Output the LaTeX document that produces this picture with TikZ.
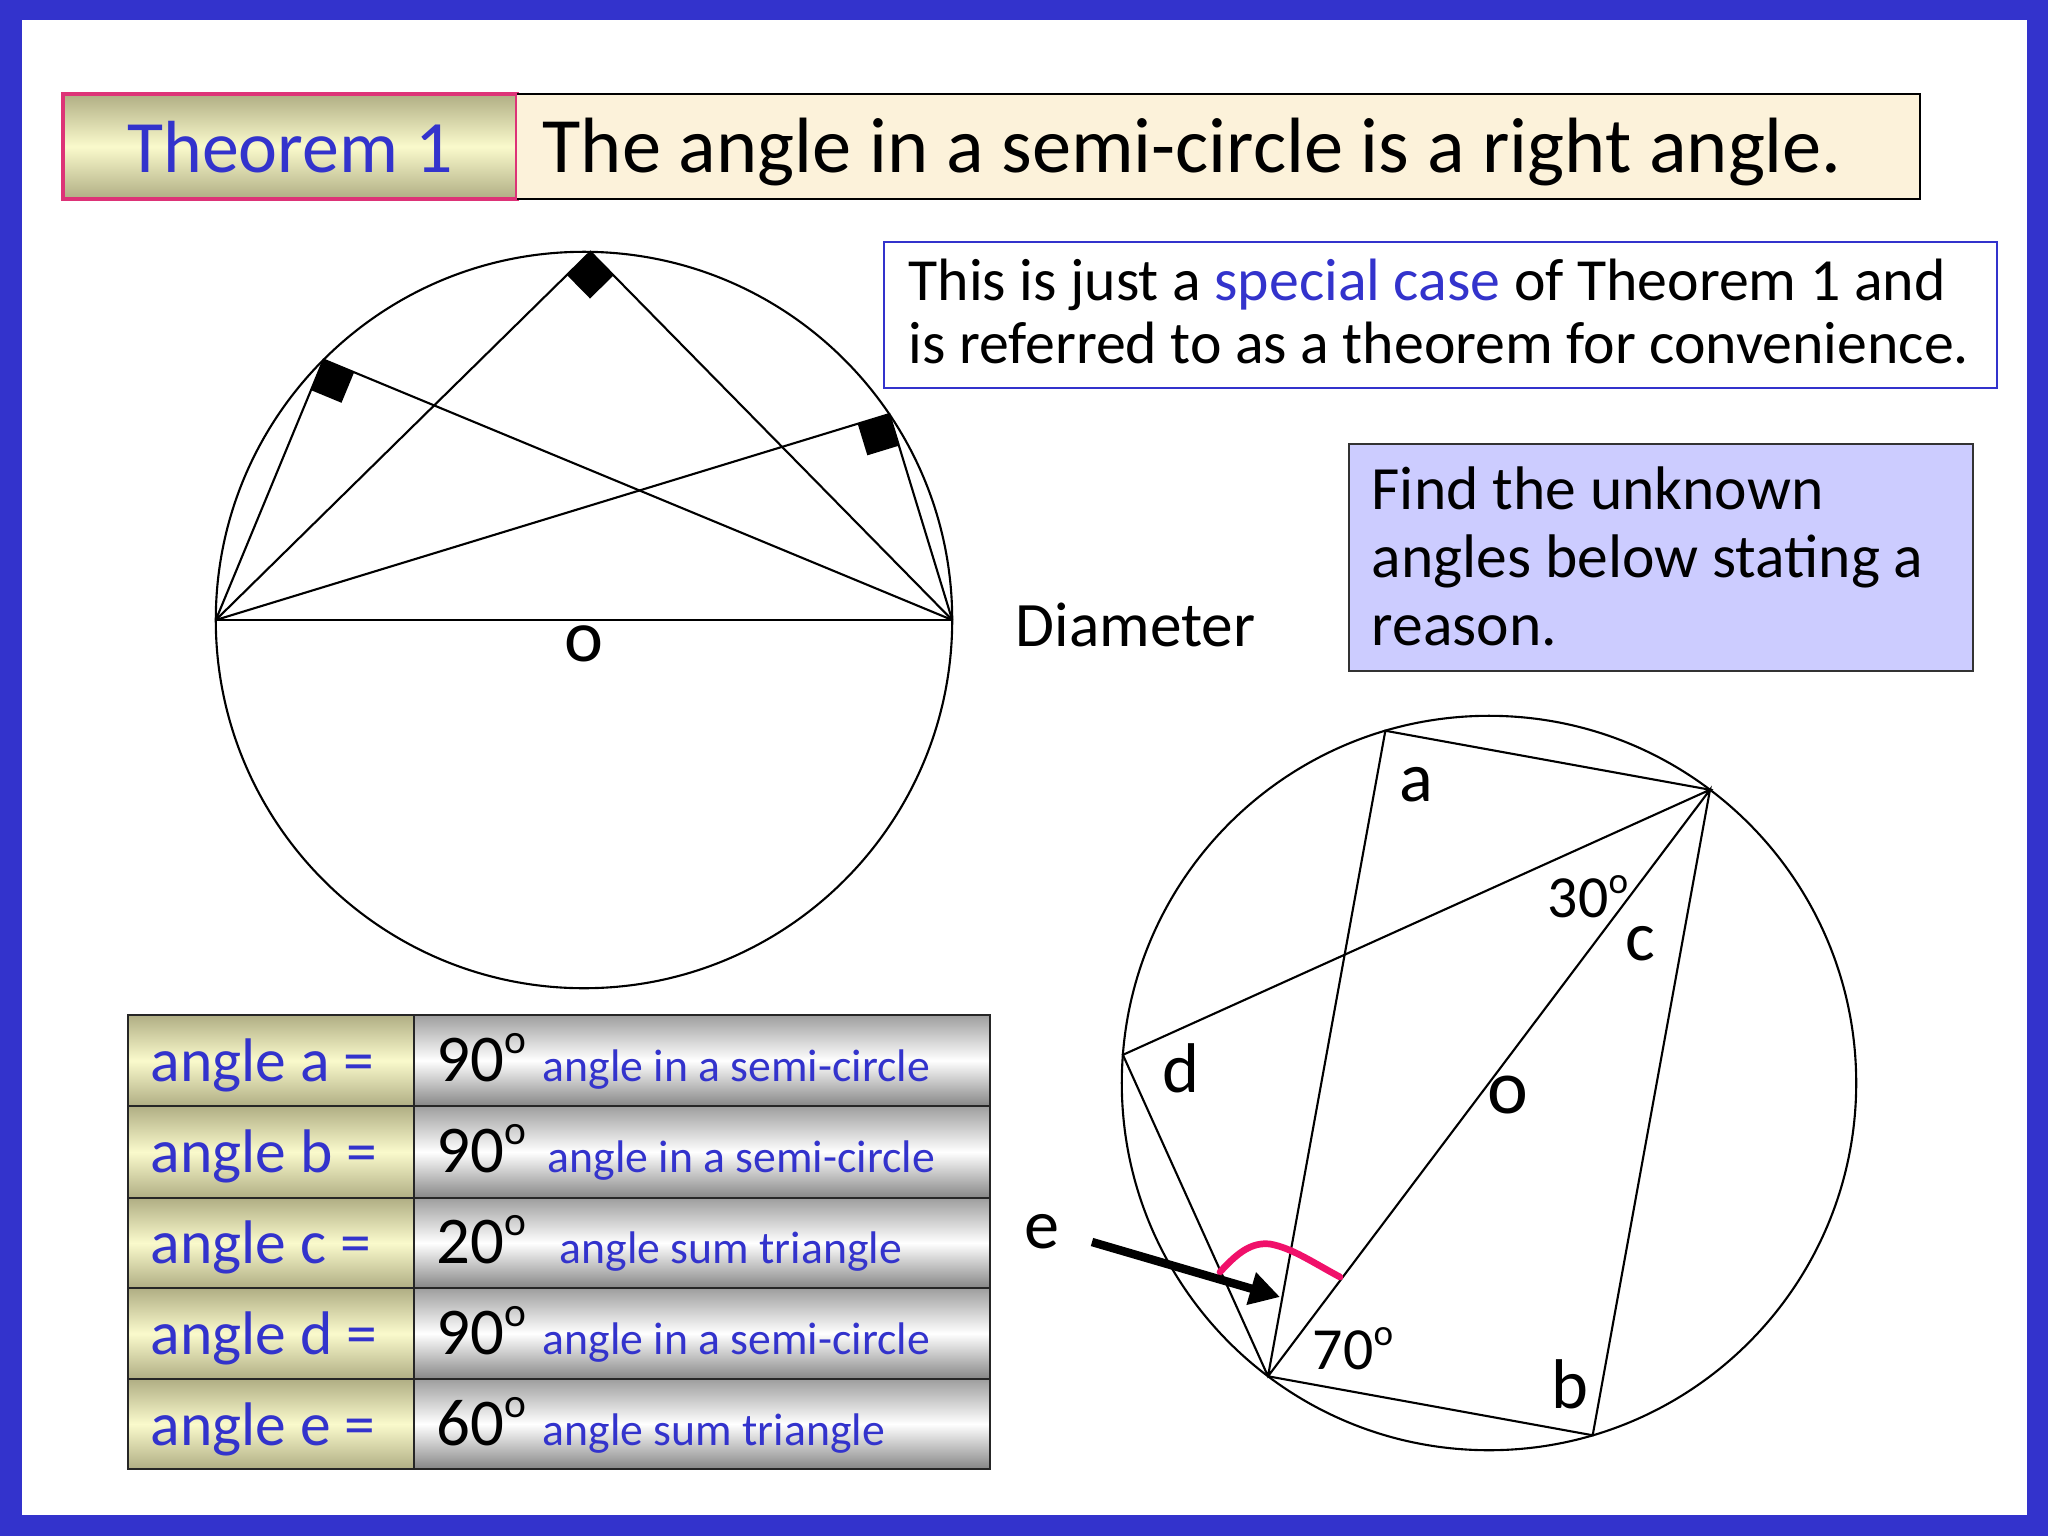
\documentclass[tikz,border=0pt]{standalone}
\usepackage{fontspec}
\setmainfont{Carlito}
\usetikzlibrary{calc,arrows.meta}
\definecolor{frameblue}{HTML}{3333CC}
\definecolor{txtblue}{HTML}{3333CC}
\definecolor{lav}{HTML}{CCCCFF}
\definecolor{cream}{HTML}{FCF2DA}
\definecolor{olive}{RGB}{176,174,132}
\definecolor{paleyel}{RGB}{250,250,204}
\definecolor{silvdark}{RGB}{158,158,158}
\definecolor{crimson}{HTML}{DD3377}
\definecolor{pinkarc}{HTML}{F0106A}
\newcommand\fs[1]{\fontsize{#1}{#1}\selectfont}
\newcommand\dg{\raisebox{0.85ex}{\scalebox{0.62}{o}}}
\newcommand\ramark[3]{%
  \coordinate (rm1) at ($(#1)!0.33cm!(#2)$);
  \coordinate (rm2) at ($(#1)!0.33cm!(#3)$);
  \fill (#1) -- (rm1) -- ($(rm1)+(rm2)-(#1)$) -- (rm2) -- cycle;}
\begin{document}
\begin{tikzpicture}[x=0.01cm,y=-0.01cm,
  geo/.style={line width=0.6pt,black},
  lbl/.style={font=\fs{20},inner sep=0pt},
  txt/.style={anchor=base west,inner sep=0pt},
  leftcell/.style={top color=olive,bottom color=olive,middle color=paleyel},
  rightcell/.style={top color=silvdark,bottom color=silvdark!85!black,middle color=white},
  cellline/.style={draw=black!85,line width=0.8pt}]
\useasboundingbox (0,0) rectangle (2048,1536);
% frame
\fill[frameblue] (0,0) rectangle (2048,1536);
\fill[white] (22,20) rectangle (2027,1515);
% title
\shade[leftcell] (63,94) rectangle (517,199);
\draw[crimson,line width=0.9pt] (63,94) rectangle (517,199);
\fill[cream] (517,94) rectangle (1920,199);
\draw[black,line width=0.8pt] (517,94) -- (1920,94) -- (1920,199) -- (517,199);
\node[inner sep=0pt,anchor=base,text=txtblue,font=\fs{21}] (thm) at (290,172) {Theorem 1};
\node[txt,font=\fs{22.3}] (stmt) at (542,172) {The angle in a semi-circle is a right angle.};
% special case box
\draw[frameblue,line width=0.7pt] (884,242) rectangle (1997,388);
\node[txt,font=\fs{17}] (sp1) at (908,300) {This is just a \textcolor{txtblue}{special case} of Theorem 1 and};
\node[txt,font=\fs{17}] (sp2) at (908,363) {is referred to as a theorem for convenience.};
% find box
\draw[fill=lav,draw=black!80,line width=0.7pt] (1349,444) rectangle (1973,671);
\node[txt,font=\fs{17.5}] (f1) at (1371,509) {Find the unknown};
\node[txt,font=\fs{17.5}] (f2) at (1371,577) {angles below stating a};
\node[txt,font=\fs{17.5}] (f3) at (1371,645) {reason.};
\node[txt,font=\fs{18}] (diam) at (1015,646) {Diameter};
% left circle
\coordinate (O1) at (584,620);
\draw[geo] (O1) circle[radius=3.68cm];
\coordinate (A1) at ($(O1)+(180:3.68cm)$);
\coordinate (B1) at ($(O1)+(0:3.68cm)$);
\coordinate (T1) at ($(O1)+(89:3.68cm)$);
\coordinate (T2) at ($(O1)+(135:3.68cm)$);
\coordinate (T3) at ($(O1)+(34:3.68cm)$);
\draw[geo] (A1) -- (B1);
\draw[geo] (A1) -- (T1) -- (B1);
\draw[geo] (A1) -- (T2) -- (B1);
\draw[geo] (A1) -- (T3) -- (B1);
\ramark{T1}{A1}{B1}
\ramark{T2}{A1}{B1}
\ramark{T3}{A1}{B1}
\node[lbl,font=\fs{21}] (o1) at (584,644) {o};
% right circle
\coordinate (O2) at (1489,1083);
\draw[geo] (O2) circle[radius=3.67cm];
\coordinate (P1) at ($(O2)+(106.4:3.67cm)$);
\coordinate (P2) at ($(O2)+(53:3.67cm)$);
\coordinate (P3) at ($(O2)+(175.6:3.67cm)$);
\coordinate (P4) at ($(O2)+(233:3.67cm)$);
\coordinate (P5) at ($(O2)+(286.4:3.67cm)$);
\draw[geo] (P4) -- (P1) -- (P2) -- (P3) -- (P4) -- (P2) -- (P5) -- (P4);
\draw[pinkarc,line width=1.9pt,line cap=round] (1220,1272) .. controls (1238,1252) and (1252,1242) .. (1270,1244) .. controls (1292,1248) and (1312,1262) .. (1340,1277);
\coordinate (ea) at (1092,1242);
\coordinate (eb) at (1280,1297);
\draw[line width=2.4pt,-{Triangle[length=0.3cm,width=0.32cm]}] (ea) -- (eb);
\node[lbl] (la) at (1416,785) {a};
\node[lbl,font=\fs{17}] (l30) at (1588,897) {30\dg};
\node[lbl] (lc) at (1640,944) {c};
\node[lbl] (ld) at (1181,1068) {d};
\node[lbl,font=\fs{22}] (lo) at (1508,1095) {o};
\node[lbl,font=\fs{17}] (l70) at (1353,1349) {70\dg};
\node[lbl] (lb) at (1570,1384) {b};
\node[lbl] (le) at (1042,1232) {e};
% table
\foreach \ya/\yb in {1015/1106,1106/1198,1198/1288,1288/1379,1379/1469}{
  \shade[leftcell] (128,\ya) rectangle (414,\yb);
  \shade[rightcell] (414,\ya) rectangle (990,\yb);
  \draw[cellline] (128,\ya) rectangle (414,\yb);
  \draw[cellline] (414,\ya) rectangle (990,\yb);
}
\foreach \i/\lt/\val/\rx/\rs in {0/a/90/542/angle in a semi-circle,1/b/90/547/angle in a semi-circle,2/c/20/559/angle sum triangle,3/d/90/542/angle in a semi-circle,4/e/60/542/angle sum triangle}{
  \node[txt,font=\fs{17.5},text=txtblue] (tl\i) at (150,1081+91*\i) {angle \lt{} =};
  \node[txt,font=\fs{19}] (tv\i) at (436,1081+91*\i) {\val\dg};
  \node[txt,font=\fs{13},text=txtblue] (tr\i) at (\rx,1081+91*\i) {\rs};
}
\end{tikzpicture}
\end{document}
